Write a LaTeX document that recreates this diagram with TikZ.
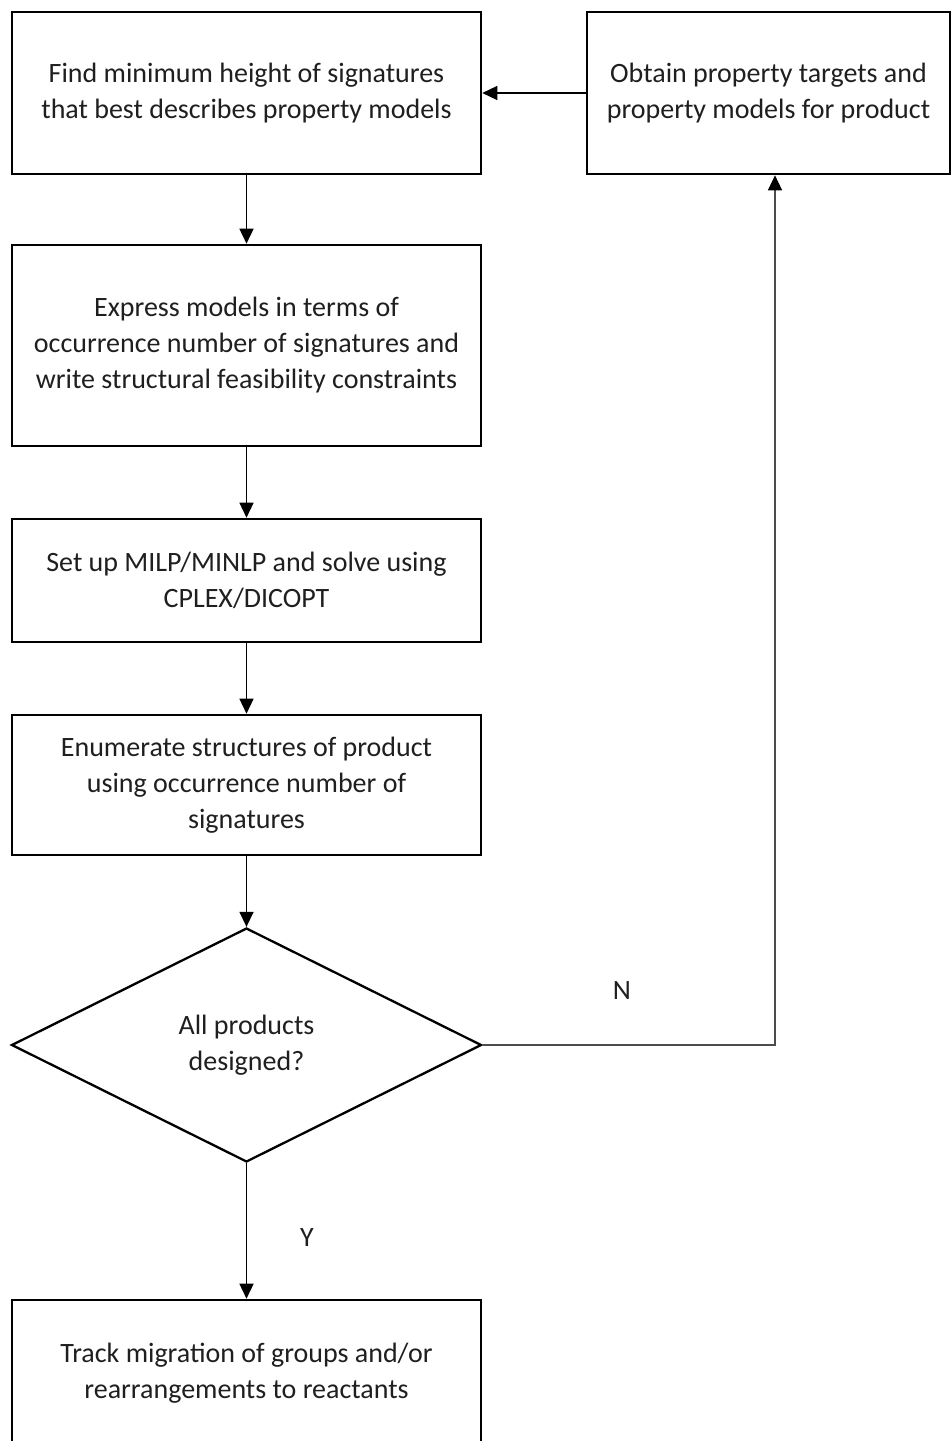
\documentclass[tikz,border=0pt]{standalone}
\usepackage{fontspec}
\setmainfont{Carlito}
\usetikzlibrary{arrows.meta,shapes.geometric}
\begin{document}
\begin{tikzpicture}[x=1pt,y=-1pt,
  every node/.style={font=\fontsize{28}{36}\selectfont, align=center, text=black!88},
  stepbox/.style={draw, line width=2.6pt, rectangle, minimum width=469pt, inner sep=0pt},
  decision/.style={draw, line width=2.3pt, diamond, minimum width=470pt, minimum height=234pt, inner sep=0pt},
  flow/.style={line width=1.4pt, -{Triangle[length=15pt,width=14pt,color=black]}},
  tag/.style={font=\fontsize{28}{36}\selectfont}]
  \clip (0,0) rectangle (951,1441);
  \fill[white] (0,0) rectangle (951,1441);

  \node[stepbox, minimum height=162pt] (find) at (246.5,93)
    {Find minimum height of signatures\\that best describes property models};
  \node[stepbox, minimum width=363pt, minimum height=162pt] (obtain) at (768.5,93)
    {Obtain property targets and\\property models for product};
  \node[stepbox, minimum height=201pt] (express) at (246.5,345.5)
    {Express models in terms of\\occurrence number of signatures and\\write structural feasibility constraints};
  \node[stepbox, minimum height=123pt] (milp) at (246.5,580.5)
    {Set up MILP/MINLP and solve using\\CPLEX/DICOPT};
  \node[stepbox, minimum height=140pt] (enum) at (246.5,785)
    {Enumerate structures of product\\using occurrence number of\\signatures};
  \node[decision] (done) at (246.5,1045) {All products\\designed?};
  \node[stepbox, minimum height=146pt] (track) at (246.5,1373)
    {Track migration of groups and/or\\rearrangements to reactants};

  \coordinate (corner) at (775,1045);

  \draw[flow] (obtain.west) -- (find.east);
  \draw[flow] (find.south) -- (express.north);
  \draw[flow] (express.south) -- (milp.north);
  \draw[flow] (milp.south) -- (enum.north);
  \draw[flow] (enum.south) -- (done.north);
  \draw[flow] (done.south) -- (track.north);
  \draw[flow, draw=black!70] (done.east) -- (corner) -- (corner |- obtain.south);

  \node[tag] (no) at (622,991) {N};
  \node[tag] (yes) at (307,1238) {Y};
\end{tikzpicture}
\end{document}
